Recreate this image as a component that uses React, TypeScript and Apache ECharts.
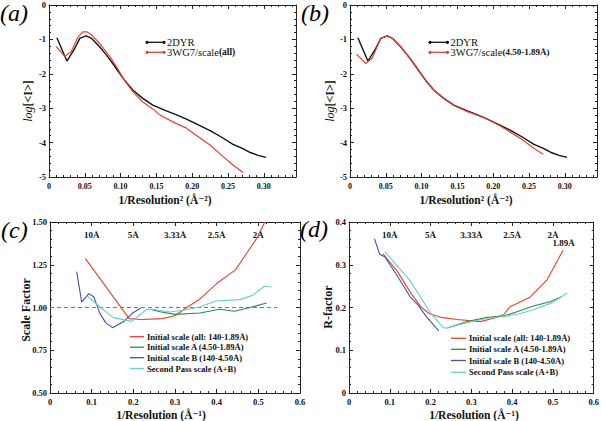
import React, { useEffect, useRef } from 'react';
import * as echarts from 'echarts';

const FONT = '"Liberation Serif", "DejaVu Serif", serif';

// ---------- Panel (a) / (b): log<I> vs 1/Resolution^2 ----------
const dyrX = [0.011, 0.025, 0.035, 0.043, 0.052, 0.060, 0.071, 0.080, 0.089, 0.098, 0.106, 0.117, 0.130, 0.145, 0.164, 0.180, 0.192, 0.210, 0.225, 0.240, 0.257, 0.270, 0.280, 0.292, 0.303];
const dyrY = [-0.95, -1.63, -1.30, -0.97, -0.90, -0.98, -1.22, -1.45, -1.70, -1.97, -2.20, -2.47, -2.70, -2.91, -3.08, -3.21, -3.32, -3.50, -3.65, -3.83, -4.05, -4.17, -4.28, -4.37, -4.43];

const wg7AllX = [0.010, 0.022, 0.031, 0.040, 0.047, 0.053, 0.059, 0.071, 0.085, 0.095, 0.104, 0.117, 0.131, 0.145, 0.155, 0.175, 0.192, 0.210, 0.225, 0.240, 0.257, 0.271];
const wg7AllY = [-1.20, -1.49, -1.36, -0.95, -0.78, -0.78, -0.86, -1.12, -1.50, -1.82, -2.15, -2.52, -2.82, -3.02, -3.20, -3.42, -3.58, -3.85, -4.07, -4.35, -4.65, -4.87];

const wg7PartX = [0.009, 0.022, 0.031, 0.043, 0.052, 0.060, 0.071, 0.080, 0.089, 0.098, 0.106, 0.117, 0.130, 0.145, 0.164, 0.180, 0.192, 0.210, 0.225, 0.240, 0.257, 0.270];
const wg7PartY = [-1.43, -1.70, -1.55, -0.97, -0.90, -0.98, -1.22, -1.45, -1.70, -1.97, -2.20, -2.47, -2.70, -2.92, -3.10, -3.22, -3.32, -3.52, -3.71, -3.90, -4.17, -4.34];

// ---------- Panel (c): scale factor ----------
const cRedX = [0.085, 0.190, 0.220, 0.270, 0.300, 0.328, 0.360, 0.400, 0.445, 0.470, 0.495, 0.516];
const cRedY = [1.286, 0.935, 0.930, 0.935, 0.952, 1.000, 1.050, 1.140, 1.220, 1.310, 1.400, 1.500];
const cGreenX = [0.240, 0.264, 0.300, 0.360, 0.407, 0.443, 0.480, 0.520];
const cGreenY = [0.990, 0.975, 0.960, 0.968, 0.990, 0.978, 1.000, 1.026];
const cBlueX = [0.064, 0.076, 0.093, 0.105, 0.120, 0.134, 0.150, 0.178, 0.200, 0.218];
const cBlueY = [1.210, 1.032, 1.081, 1.063, 0.964, 0.910, 0.882, 0.920, 0.971, 0.997];
const cCyanX = [0.090, 0.120, 0.152, 0.196, 0.232, 0.250, 0.288, 0.319, 0.359, 0.399, 0.455, 0.486, 0.514, 0.532];
const cCyanY = [1.065, 1.003, 0.941, 0.919, 0.990, 0.988, 0.974, 0.984, 1.003, 1.038, 1.046, 1.071, 1.124, 1.120];
const refLineX = [0, 0.545];
const refLineY = [1.0, 1.0];

// ---------- Panel (d): R-factor ----------
const dRedX = [0.083, 0.119, 0.152, 0.176, 0.196, 0.225, 0.265, 0.322, 0.355, 0.379, 0.395, 0.444, 0.485, 0.525];
const dRedY = [0.326, 0.284, 0.233, 0.202, 0.186, 0.177, 0.172, 0.167, 0.175, 0.183, 0.202, 0.224, 0.264, 0.334];
const dGreenX = [0.241, 0.290, 0.339, 0.379, 0.412, 0.452, 0.493, 0.521];
const dGreenY = [0.152, 0.167, 0.177, 0.180, 0.190, 0.2035, 0.2135, 0.225];
const dBlueX = [0.0625, 0.075, 0.088, 0.117, 0.150, 0.170, 0.190, 0.208, 0.220];
const dBlueY = [0.361, 0.325, 0.318, 0.276, 0.225, 0.205, 0.178, 0.159, 0.145];
const dCyanX = [0.088, 0.149, 0.198, 0.232, 0.241, 0.290, 0.340, 0.380, 0.420, 0.455, 0.500, 0.535];
const dCyanY = [0.330, 0.264, 0.190, 0.152, 0.152, 0.165, 0.175, 0.179, 0.186, 0.196, 0.212, 0.234];

// Top resolution labels (at 1/Resolution = 0.1 .. 0.5)
const topLabels = ['10Å', '5Å', '3.33Å', '2.5Å', '2Å'];
const endResLabel = '1.89Å';
const endResPos = [0.526, 0.35];

const legendC = ['Initial scale (all: 140-1.89Å)', 'Initial scale A (4.50-1.89Å)', 'Initial scale B (140-4.50Å)', 'Second Pass scale (A+B)'];

const RED = '#e8412f';
const GREEN = '#2c8c46';
const BLUE = '#4252a4';
const CYAN = '#62d3c8';
const BLACK = '#111111';
const AX = '#222222';

const zip = (xs: number[], ys: number[]) => xs.map((x, i) => [x, ys[i]]);

function axis(extra: any) {
  return {
    type: 'value',
    axisLine: { show: true, onZero: false, lineStyle: { color: AX, width: 1 } },
    axisTick: { show: true, inside: true, length: 4, lineStyle: { color: AX, width: 1 } },
    minorTick: { show: true, splitNumber: 5, length: 2, lineStyle: { color: AX, width: 1 } },
    splitLine: { show: false },
    minorSplitLine: { show: false },
    axisLabel: { show: false },
    ...extra,
  };
}

const tickLabel = (extra: any = {}) => ({
  show: true,
  fontFamily: FONT,
  fontWeight: 'bold',
  fontSize: 8.5,
  color: '#111',
  ...extra,
});

function line(xi: number, xs: number[], ys: number[], color: string, width: number, extra: any = {}) {
  return {
    type: 'line',
    xAxisIndex: xi,
    yAxisIndex: xi,
    data: zip(xs, ys),
    showSymbol: false,
    symbol: 'none',
    silent: true,
    lineStyle: { color, width },
    itemStyle: { color },
    ...extra,
  };
}

function legendItem(x1: number, x2: number, y: number, color: string, dots: boolean, text: string, font: string, rich?: any) {
  const els: any[] = [
    { type: 'line', shape: { x1, y1: y, x2, y2: y }, style: { stroke: color, lineWidth: 1.3 } },
  ];
  if (dots) {
    els.push({ type: 'circle', shape: { cx: x1, cy: y, r: 1.6 }, style: { fill: color } });
    els.push({ type: 'circle', shape: { cx: x2, cy: y, r: 1.6 }, style: { fill: color } });
  }
  els.push({
    type: 'text',
    x: x2 + 3,
    y,
    style: { text, font, fill: '#111', verticalAlign: 'middle', align: 'left', rich },
  });
  return els;
}

export default function App() {
  const ref = useRef<HTMLDivElement>(null);
  useEffect(() => {
    if (!ref.current) return;
    const chart = echarts.init(ref.current, undefined, { renderer: 'svg' });

    const fmt2 = (v: number) => (Math.abs(v) < 1e-9 ? '0' : v.toFixed(2));
    const topFmt = (v: number) => {
      const i = Math.round(v * 10);
      return Math.abs(v * 10 - i) < 1e-6 && i >= 1 && i <= 5 ? topLabels[i - 1] : '';
    };

    const xA = { min: 0, max: 0.345, interval: 0.05 };
    const xC = { min: 0, max: 0.6, interval: 0.1 };

    const nameFont = `bold 11.5px ${FONT}`;

    const option: any = {
      animation: false,
      backgroundColor: '#ffffff',
      grid: [
        { left: 49, top: 5, width: 247, height: 172 },
        { left: 350, top: 5, width: 247, height: 172 },
        { left: 50, top: 222, width: 250, height: 171 },
        { left: 349, top: 222, width: 246, height: 171 },
      ],
      xAxis: [
        axis({ gridIndex: 0, position: 'bottom', ...xA, axisLabel: tickLabel({ fontSize: 8, margin: 5, formatter: fmt2, showMaxLabel: false }) }),
        axis({ gridIndex: 0, position: 'top', ...xA }),
        axis({ gridIndex: 1, position: 'bottom', ...xA, axisLabel: tickLabel({ fontSize: 8, margin: 5, formatter: fmt2, showMaxLabel: false }) }),
        axis({ gridIndex: 1, position: 'top', ...xA }),
        axis({ gridIndex: 2, position: 'bottom', ...xC, axisLabel: tickLabel({ fontSize: 8.5, margin: 4 }) }),
        axis({ gridIndex: 2, position: 'top', ...xC, axisLabel: tickLabel({ fontSize: 9, inside: true, margin: 8, formatter: topFmt }) }),
        axis({ gridIndex: 3, position: 'bottom', ...xC, axisLabel: tickLabel({ fontSize: 8.5, margin: 4 }) }),
        axis({ gridIndex: 3, position: 'top', ...xC, axisLabel: tickLabel({ fontSize: 9, inside: true, margin: 8, formatter: topFmt }) }),
      ],
      yAxis: [
        axis({ gridIndex: 0, position: 'left', min: -5, max: 0, interval: 1, axisLabel: tickLabel({ margin: 3 }) }),
        axis({ gridIndex: 0, position: 'right', min: -5, max: 0, interval: 1 }),
        axis({ gridIndex: 1, position: 'left', min: -5, max: 0, interval: 1, axisLabel: tickLabel({ margin: 3 }) }),
        axis({ gridIndex: 1, position: 'right', min: -5, max: 0, interval: 1 }),
        axis({ gridIndex: 2, position: 'left', min: 0.5, max: 1.5, interval: 0.25, axisLabel: tickLabel({ margin: 3, formatter: (v: number) => v.toFixed(2) }) }),
        axis({ gridIndex: 2, position: 'right', min: 0.5, max: 1.5, interval: 0.25 }),
        axis({ gridIndex: 3, position: 'left', min: 0, max: 0.4, interval: 0.1, axisLabel: tickLabel({ margin: 3 }) }),
        axis({ gridIndex: 3, position: 'right', min: 0, max: 0.4, interval: 0.1 }),
      ],
      series: [
        line(0, dyrX, dyrY, BLACK, 1.4),
        line(0, wg7AllX, wg7AllY, RED, 1.2),
        line(2, dyrX, dyrY, BLACK, 1.4),
        line(2, wg7PartX, wg7PartY, RED, 1.2),
        line(4, refLineX, refLineY, '#777777', 1, { lineStyle: { color: '#777777', width: 1, type: [4, 3] } }),
        line(4, cRedX, cRedY, RED, 1.1),
        line(4, cGreenX, cGreenY, GREEN, 1.1),
        line(4, cBlueX, cBlueY, BLUE, 1.1),
        line(4, cCyanX, cCyanY, CYAN, 1.1),
        line(6, dRedX, dRedY, RED, 1.1, {
          markPoint: {
            silent: true,
            symbol: 'circle',
            symbolSize: 0,
            label: { show: true, position: 'inside', formatter: endResLabel, fontFamily: FONT, fontWeight: 'bold', fontSize: 9, color: '#111' },
            data: [{ coord: endResPos }],
          },
        }),
        line(6, dGreenX, dGreenY, GREEN, 1.1),
        line(6, dBlueX, dBlueY, BLUE, 1.1),
        line(6, dCyanX, dCyanY, CYAN, 1.1),
      ],
      graphic: [
        // panel letters
        { type: 'text', x: 0, y: 13, style: { text: '(a)', font: `italic 24px ${FONT}`, fill: '#000', verticalAlign: 'middle' } },
        { type: 'text', x: 301, y: 13, style: { text: '(b)', font: `italic 24px ${FONT}`, fill: '#000', verticalAlign: 'middle' } },
        { type: 'text', x: 1, y: 230, style: { text: '(c)', font: `italic 24px ${FONT}`, fill: '#000', verticalAlign: 'middle' } },
        { type: 'text', x: 300, y: 229, style: { text: '(d)', font: `italic 24px ${FONT}`, fill: '#000', verticalAlign: 'middle' } },
        // axis names
        { type: 'text', x: 165, y: 200, style: { text: '1/Resolution² (Å⁻²)', font: nameFont, fill: '#111', align: 'center', verticalAlign: 'middle' } },
        { type: 'text', x: 466, y: 200, style: { text: '1/Resolution² (Å⁻²)', font: nameFont, fill: '#111', align: 'center', verticalAlign: 'middle' } },
        { type: 'text', x: 161, y: 414.5, style: { text: '1/Resolution (Å⁻¹)', font: nameFont, fill: '#111', align: 'center', verticalAlign: 'middle' } },
        { type: 'text', x: 474, y: 414.5, style: { text: '1/Resolution (Å⁻¹)', font: nameFont, fill: '#111', align: 'center', verticalAlign: 'middle' } },
        {
          type: 'text', x: 28, y: 101, rotation: Math.PI / 2,
          style: { text: '{i|log}{b|[<I>]}', align: 'center', verticalAlign: 'middle', rich: { i: { font: `italic 12px ${FONT}`, fill: '#111' }, b: { font: `bold 12px ${FONT}`, fill: '#111' } } },
        },
        {
          type: 'text', x: 330, y: 101, rotation: Math.PI / 2,
          style: { text: '{i|log}{b|[<I>]}', align: 'center', verticalAlign: 'middle', rich: { i: { font: `italic 12px ${FONT}`, fill: '#111' }, b: { font: `bold 12px ${FONT}`, fill: '#111' } } },
        },
        { type: 'text', x: 26, y: 310, rotation: Math.PI / 2, style: { text: 'Scale Factor', font: `bold 12px ${FONT}`, fill: '#111', align: 'center', verticalAlign: 'middle' } },
        { type: 'text', x: 328, y: 307, rotation: Math.PI / 2, style: { text: 'R-factor', font: `bold 12px ${FONT}`, fill: '#111', align: 'center', verticalAlign: 'middle' } },
        // legends (a)
        ...legendItem(147, 164, 42.3, BLACK, true, '2DYR', `10.5px ${FONT}`),
        ...legendItem(147, 164, 52.3, RED, true, '3WG7/scale{b|(all)}', `10.5px ${FONT}`, { b: { font: `bold 9.5px ${FONT}`, fill: '#111' } }),
        // legends (b)
        ...legendItem(430, 447.5, 42.3, BLACK, true, '2DYR', `10.5px ${FONT}`),
        ...legendItem(430, 447.5, 52.3, RED, true, '3WG7/scale{b|(4.50-1.89Å)}', `10.5px ${FONT}`, { b: { font: `bold 9px ${FONT}`, fill: '#111' } }),
        // legends (c)
        ...legendItem(130, 144, 336.7, RED, false, legendC[0], `bold 8.6px ${FONT}`),
        ...legendItem(130, 144, 347.2, GREEN, false, legendC[1], `bold 8.6px ${FONT}`),
        ...legendItem(130, 144, 357.7, BLUE, false, legendC[2], `bold 8.6px ${FONT}`),
        ...legendItem(130, 144, 368.5, CYAN, false, legendC[3], `bold 8.6px ${FONT}`),
        // legends (d)
        ...legendItem(451, 466, 338.3, RED, false, legendC[0], `bold 8.6px ${FONT}`),
        ...legendItem(451, 466, 349.3, GREEN, false, legendC[1], `bold 8.6px ${FONT}`),
        ...legendItem(451, 466, 360.5, BLUE, false, legendC[2], `bold 8.6px ${FONT}`),
        ...legendItem(451, 466, 372.3, CYAN, false, legendC[3], `bold 8.6px ${FONT}`),
      ],
    };

    chart.setOption(option);
    return () => chart.dispose();
  }, []);

  return <div ref={ref} style={{ position: 'absolute', left: 0, top: 0, width: 602, height: 421 }} />;
}
